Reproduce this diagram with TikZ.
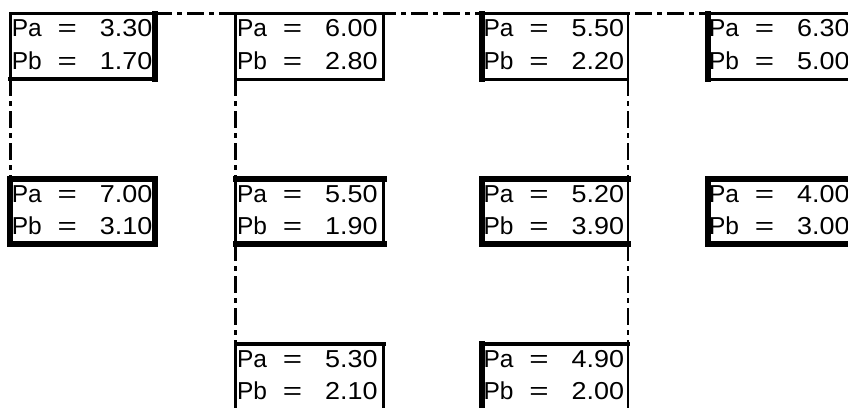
\documentclass[tikz,border=0pt]{standalone}
\usepackage{fontspec}
\usepackage{graphicx}
\setmainfont{Liberation Sans}
\usetikzlibrary{calc}
\tikzset{
  pbox/.style={draw, fill=white, line width=2.7pt, inner sep=0pt, outer sep=0pt, anchor=north west},
  thk/.style={line width=6pt, line cap=rect},
  med/.style={line width=4pt, line cap=rect},
  conn/.style={line width=2.8pt, dash pattern=on 17pt off 5pt on 5pt off 5pt},
  txt/.style={inner sep=0pt, outer sep=0pt, font=\fontsize{24.5}{28}\selectfont}
}
\newcommand\wnum[1]{\scalebox{1.1}[1]{#1}}
\newcommand\weq{\scalebox{1.35}[1]{=}}
\newcommand\vals[3]{%
  \node[txt, anchor=base west] (#1pa) at ($(#1.north west)+(1.5,23.3)$) {Pa};
  \node[txt, anchor=base] (#1ea) at ($(#1.north west)+(57,23.3)$) {\weq};
  \node[txt, anchor=base east] (#1va) at ($(#1.north west)+(142,23.3)$) {\wnum{#2}};
  \node[txt, anchor=base west] (#1pb) at ($(#1.north west)+(1.5,55.5)$) {Pb};
  \node[txt, anchor=base] (#1eb) at ($(#1.north west)+(57,55.5)$) {\weq};
  \node[txt, anchor=base east] (#1vb) at ($(#1.north west)+(142,55.5)$) {\wnum{#3}};
}
\begin{document}
\begin{tikzpicture}[x=1pt,y=-1pt]
\path[use as bounding box, clip] (0,0) rectangle (848,407);
\fill[white] (0,0) rectangle (848,407);
% boxes
\node[pbox, minimum width=145pt, minimum height=65.6pt] (A) at (10.3,13.65) {};
\node[pbox, minimum width=148.2pt, minimum height=65.6pt] (B) at (235.5,13.65) {};
\node[pbox, minimum width=146pt, minimum height=65.6pt] (C) at (482,13.65) {};
\node[pbox, minimum width=200pt, minimum height=65.6pt] (D) at (707.5,13.65) {};
\node[pbox, line width=6pt, minimum width=144.7pt, minimum height=65pt] (E) at (10.3,179) {};
\node[pbox, minimum width=148.2pt, minimum height=65pt] (F) at (235.5,179) {};
\node[pbox, minimum width=146pt, minimum height=65pt] (G) at (482,179) {};
\node[pbox, minimum width=200pt, minimum height=65pt] (H) at (707.5,179) {};
\node[pbox, minimum width=148.2pt, minimum height=90pt] (I) at (235.5,344) {};
\node[pbox, minimum width=146pt, minimum height=90pt] (J) at (482,344) {};
% thick sides
\draw[thk] (A.north east) -- (A.south east);
\draw[med] (A.south west) -- (A.south east);
\draw[thk] (C.north west) -- (C.south west);
\draw[thk] (D.north west) -- (D.south west);
\draw[thk] (F.north west) -- (F.north east);
\draw[thk] (F.south west) -- (F.south east);
\draw[thk] (G.south west) -- (G.north west) -- (G.north east);
\draw[thk] (G.south west) -- (G.south east);
\draw[thk] (H.south west) -- (H.north west) -- (H.north east);
\draw[thk] (H.south west) -- (H.south east);
\draw[med] (I.north west) -- (I.north east);
\draw[med] (J.north west) -- (J.north east);
\draw[thk] (J.north west) -- (J.south west);
% connectors
\draw[conn] (A.north east) -- (D.north west);
\draw[conn] (A.south west) -- (E.north west);
\draw[conn] (B.south west) -- (F.north west);
\draw[conn] (F.south west) -- (I.north west);
\draw[conn] (C.south east) -- (G.north east);
\draw[conn] (G.south east) -- (J.north east);
% values
\vals{A}{3.30}{1.70}
\vals{B}{6.00}{2.80}
\vals{C}{5.50}{2.20}
\vals{D}{6.30}{5.00}
\vals{E}{7.00}{3.10}
\vals{F}{5.50}{1.90}
\vals{G}{5.20}{3.90}
\vals{H}{4.00}{3.00}
\vals{I}{5.30}{2.10}
\vals{J}{4.90}{2.00}
\end{tikzpicture}
\end{document}
